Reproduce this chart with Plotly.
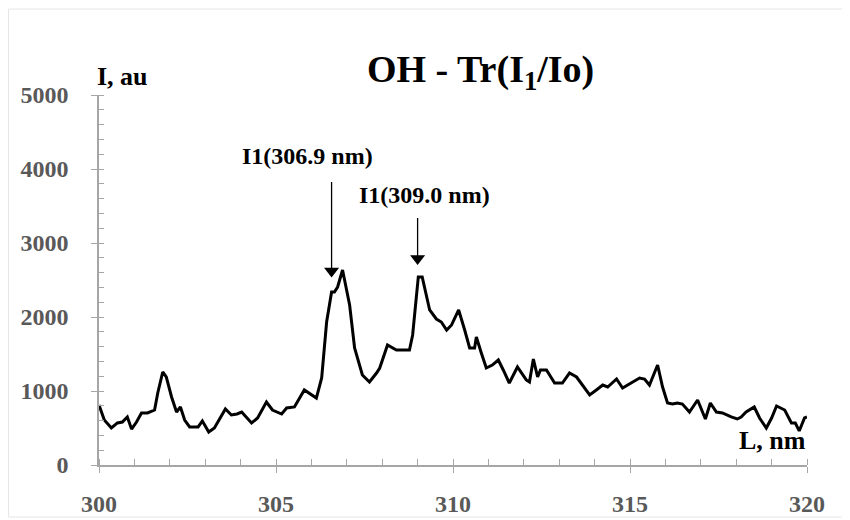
import plotly.graph_objects as go

wavelength = [300.0, 300.15, 300.35, 300.52, 300.66, 300.8, 300.92, 301.06, 301.2, 301.37, 301.57, 301.66,
              301.8, 301.9, 302.05, 302.19, 302.3, 302.42, 302.56, 302.8, 302.92, 303.1, 303.26, 303.4,
              303.57, 303.74, 303.9, 304.03, 304.17, 304.31, 304.48, 304.73, 304.9, 305.16, 305.3, 305.52,
              305.8, 306.14, 306.29, 306.43, 306.57, 306.65, 306.74, 306.88, 307.08, 307.22, 307.44, 307.64,
              307.84, 307.93, 308.15, 308.4, 308.77, 308.86, 309.02, 309.13, 309.34, 309.53, 309.67, 309.82,
              309.96, 310.16, 310.33, 310.47, 310.61, 310.66, 310.8, 310.94, 311.11, 311.28, 311.42, 311.59,
              311.82, 312.07, 312.16, 312.27, 312.39, 312.47, 312.64, 312.87, 313.09, 313.29, 313.49, 313.66,
              313.86, 314.05, 314.23, 314.37, 314.62, 314.79, 315.04, 315.27, 315.41, 315.55, 315.78, 315.92,
              316.06, 316.2, 316.34, 316.48, 316.68, 316.91, 317.13, 317.27, 317.44, 317.61, 317.86, 318.03,
              318.14, 318.28, 318.51, 318.66, 318.85, 319.0, 319.14, 319.37, 319.56, 319.67, 319.78, 319.93,
              320.0]
intensity = [811, 608, 500, 568, 581, 649, 486, 581, 703, 703, 743, 973,
             1257, 1190, 919, 716, 784, 608, 514, 514, 595, 446, 500, 608,
             757, 676, 690, 716, 635, 568, 635, 851, 743, 689, 770, 784,
             1014, 905, 1176, 1932, 2338, 2338, 2405, 2635, 2162, 1581, 1216, 1122,
             1243, 1311, 1622, 1554, 1554, 1757, 2541, 2541, 2095, 1973, 1932, 1824,
             1892, 2095, 1824, 1581, 1581, 1730, 1514, 1311, 1351, 1419, 1284, 1108,
             1324, 1149, 1122, 1432, 1189, 1284, 1284, 1108, 1108, 1243, 1189, 1081,
             946, 1014, 1081, 1054, 1162, 1041, 1108, 1176, 1162, 1081, 1351, 1054,
             838, 824, 838, 824, 716, 878, 622, 838, 716, 703, 649, 622,
             649, 716, 784, 635, 500, 635, 797, 743, 568, 568, 460, 635,
             649]

x_ticks = [300, 305, 310, 315, 320]
y_ticks = [0, 1000, 2000, 3000, 4000, 5000]

title_text = "OH - Tr(I<sub>1</sub>/Io)"
y_label = "I, au"
x_label = "L, nm"
peak_labels = ["I1(306.9 nm)", "I1(309.0 nm)"]
peak_label_x = [305.9, 309.2]
peak_label_y = [4170, 3650]
arrow_x = [306.57, 309.0]
arrow_head_y = [2620, 2790]
arrow_tail_y = [3824, 3338]

FONT = "Liberation Serif"
OFF = 8  # default page body margin in the browser
W, H = 850 - OFF, 520 - OFF
L, T = 99 - OFF, 95 - OFF
R = W - (807 - OFF)
B = H - (465 - OFF)

fig = go.Figure()
fig.add_trace(go.Scatter(x=wavelength, y=intensity, mode="lines",
                         line=dict(color="black", width=3), showlegend=False))

fig.update_layout(
    width=W, height=H,
    margin=dict(l=L, r=R, t=T, b=B, autoexpand=False),
    paper_bgcolor="white", plot_bgcolor="white",
    font=dict(family=FONT),
    showlegend=False,
)
fig.update_xaxes(range=[300, 320], tickvals=x_ticks, showgrid=False, zeroline=False,
                 showline=True, linecolor="#a6a6a6", linewidth=1.5, automargin=False,
                 ticks="outside", ticklen=6, tickcolor="#a6a6a6",
                 minor=dict(dtick=1, ticks="inside", ticklen=6, tickcolor="#a6a6a6"),
                 tickfont=dict(family=FONT, size=24, color="#595959", weight="bold"),
                 ticklabelstandoff=10)
fig.update_yaxes(range=[0, 5000], tickvals=y_ticks, showgrid=False, zeroline=False,
                 showline=True, linecolor="#a6a6a6", linewidth=1.5, automargin=False,
                 ticks="outside", ticklen=6, tickcolor="#a6a6a6",
                 minor=dict(dtick=200, ticks="inside", ticklen=5, tickcolor="#a6a6a6"),
                 tickfont=dict(family=FONT, size=24, color="#595959", weight="bold"),
                 ticklabelstandoff=18)


def px_to_paper_x(px):
    return (px - OFF - L) / (W - L - R)


def px_to_paper_y(py):
    return (H - B - (py - OFF)) / (H - T - B)


fig.add_annotation(text="<b>" + title_text + "</b>", x=px_to_paper_x(480), xref="paper",
                   y=px_to_paper_y(72), yref="paper", showarrow=False,
                   xanchor="center", yanchor="middle",
                   font=dict(family=FONT, size=38, color="black"))
fig.add_annotation(text="<b>" + y_label + "</b>", x=px_to_paper_x(95), xref="paper",
                   y=px_to_paper_y(76), yref="paper", showarrow=False,
                   xanchor="left", yanchor="middle",
                   font=dict(family=FONT, size=26, color="black"))
fig.add_annotation(text="<b>" + x_label + "</b>", x=px_to_paper_x(808), xref="paper",
                   y=px_to_paper_y(440), yref="paper", showarrow=False,
                   xanchor="right", yanchor="middle",
                   font=dict(family=FONT, size=26, color="black"))

for i in range(2):
    fig.add_annotation(text="<b>" + peak_labels[i] + "</b>", x=peak_label_x[i], y=peak_label_y[i],
                       xref="x", yref="y", showarrow=False,
                       font=dict(family=FONT, size=24, color="black"))
    fig.add_shape(type="line", xref="x", yref="y",
                  x0=arrow_x[i], x1=arrow_x[i], y0=arrow_tail_y[i], y1=arrow_head_y[i],
                  line=dict(color="black", width=1.3))

# arrow heads
fig.add_trace(go.Scatter(x=arrow_x, y=arrow_head_y, mode="markers",
                         marker=dict(symbol="triangle-down", size=13, color="black"),
                         showlegend=False, hoverinfo="skip"))

# Faint outer chart frame
fig.add_shape(type="rect", xref="paper", yref="paper",
              x0=px_to_paper_x(8.5), x1=px_to_paper_x(848),
              y0=px_to_paper_y(517), y1=px_to_paper_y(9),
              line=dict(color="#e6e6e6", width=1))

fig.write_html("out.html")
